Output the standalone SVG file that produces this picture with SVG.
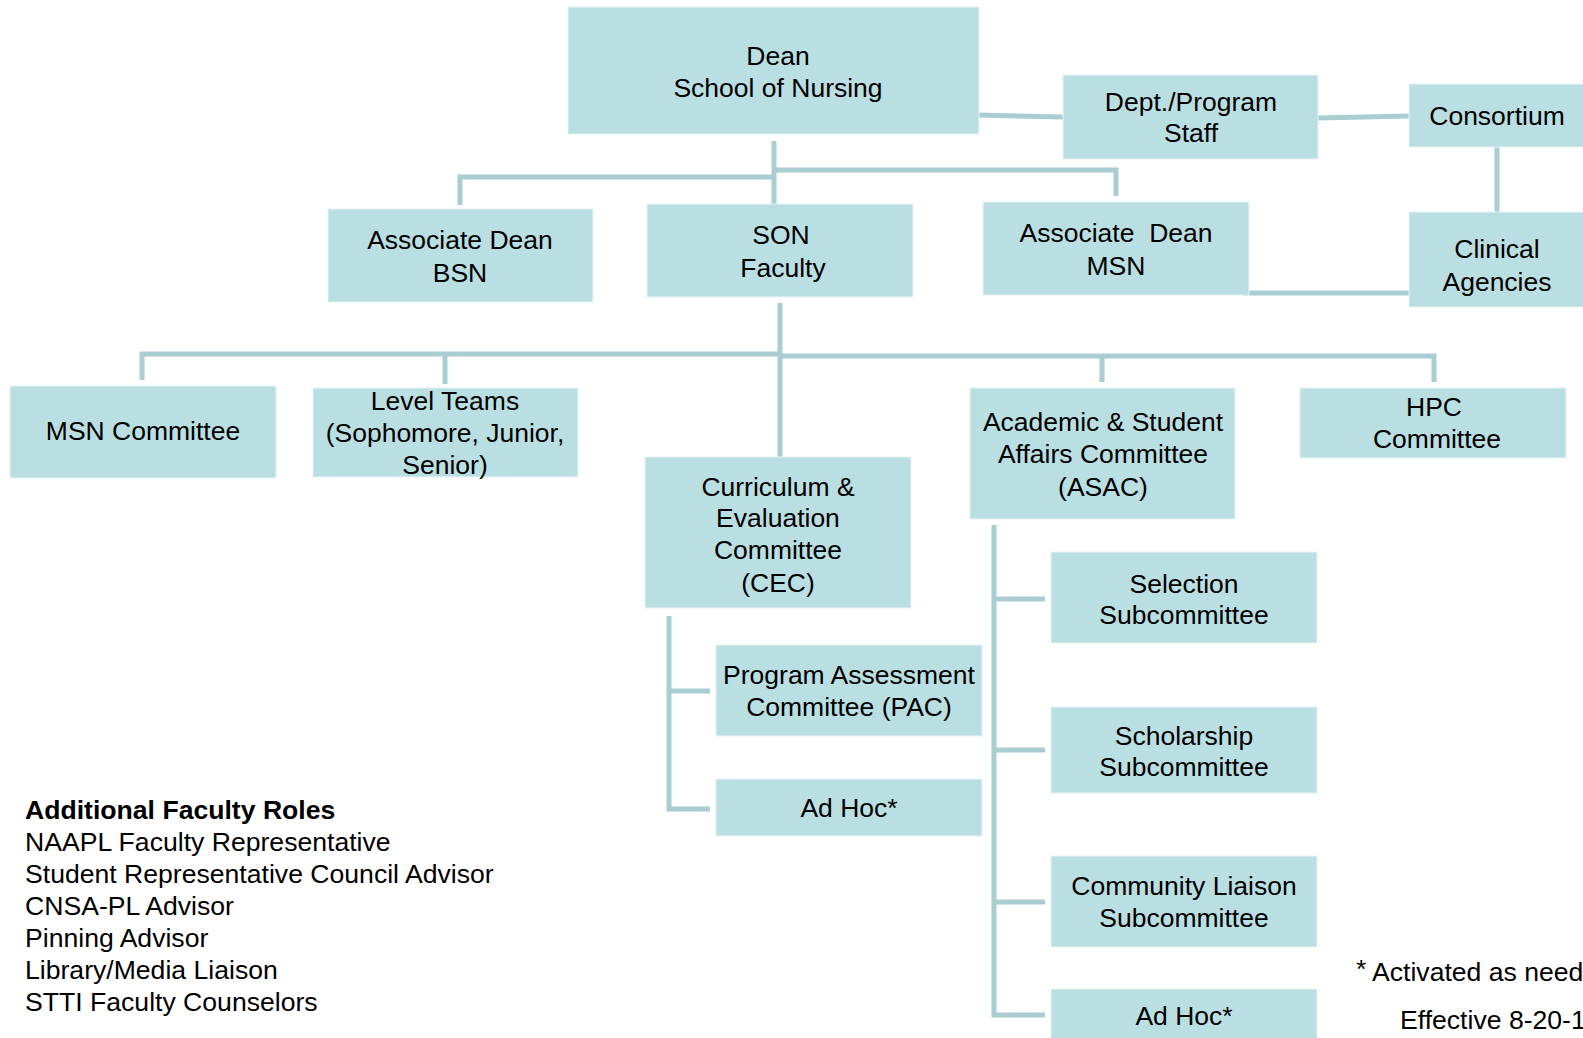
<svg xmlns="http://www.w3.org/2000/svg" width="1583" height="1038" viewBox="0 0 1583 1038">
<style>
.box{fill:#BADFE3;stroke:#E4F3F5;stroke-width:1}
.t{font-family:"Liberation Sans",Arial,sans-serif;font-size:26.5px;fill:#000;text-anchor:middle}
.l{font-family:"Liberation Sans",Arial,sans-serif;font-size:26.6px;fill:#000}
.c{fill:none;stroke:#A9CDD1;stroke-width:5}
</style>
<rect width="1583" height="1038" fill="#fff"/>
<g id="connectors">
<path class="c" d="M977 115 L1063 117"/>
<path class="c" d="M1318 118 L1409 116"/>
<path class="c" d="M1497 147 V212"/>
<path class="c" d="M1242 293 H1409"/>
<path class="c" d="M774 141 V204"/>
<path class="c" d="M774 177 H460 V205"/>
<path class="c" d="M774 170 H1116 V196"/>
<path class="c" d="M780 303 V457"/>
<path class="c" d="M780 354 H142 V380"/>
<path class="c" d="M445 354 V384"/>
<path class="c" d="M780 356 H1434 V382"/>
<path class="c" d="M1102 356 V382"/>
<path class="c" d="M669 616 V809 H710"/>
<path class="c" d="M669 691 H710"/>
<path class="c" d="M994 525 V1015 H1045"/>
<path class="c" d="M994 599 H1045"/>
<path class="c" d="M994 750 H1045"/>
<path class="c" d="M994 902 H1045"/>
</g>
<g id="dean"><rect class="box" x="568" y="7" width="411" height="127"/><text class="t" x="778" y="65">Dean</text><text class="t" x="778" y="97">School of Nursing</text></g>
<g id="dept"><rect class="box" x="1063" y="75" width="255" height="84"/><text class="t" x="1191" y="111">Dept./Program</text><text class="t" x="1191" y="142">Staff</text></g>
<g id="consortium"><rect class="box" x="1409" y="84" width="176" height="63"/><text class="t" x="1497" y="125">Consortium</text></g>
<g id="clinical"><rect class="box" x="1409" y="212" width="176" height="95"/><text class="t" x="1497" y="258">Clinical</text><text class="t" x="1497" y="291">Agencies</text></g>
<g id="ad-bsn"><rect class="box" x="328" y="209" width="265" height="93"/><text class="t" x="460" y="249">Associate Dean</text><text class="t" x="460" y="282">BSN</text></g>
<g id="son-faculty"><rect class="box" x="647" y="204" width="266" height="93"/><text class="t" x="781" y="244">SON</text><text class="t" x="783" y="277">Faculty</text></g>
<g id="ad-msn"><rect class="box" x="983" y="202" width="266" height="93"/><text class="t" x="1116" y="242" xml:space="preserve">Associate  Dean</text><text class="t" x="1116" y="275">MSN</text></g>
<g id="msn-committee"><rect class="box" x="10" y="386" width="266" height="92"/><text class="t" x="143" y="440">MSN Committee</text></g>
<g id="level-teams"><rect class="box" x="313" y="388" width="265" height="89"/><text class="t" x="445" y="410">Level Teams</text><text class="t" x="445" y="442">(Sophomore, Junior,</text><text class="t" x="445" y="474">Senior)</text></g>
<g id="cec"><rect class="box" x="645" y="457" width="266" height="151"/><text class="t" x="778" y="496">Curriculum &amp;</text><text class="t" x="778" y="527">Evaluation</text><text class="t" x="778" y="559">Committee</text><text class="t" x="778" y="592">(CEC)</text></g>
<g id="asac"><rect class="box" x="970" y="388" width="265" height="131"/><text class="t" x="1103" y="431">Academic &amp; Student</text><text class="t" x="1103" y="463">Affairs Committee</text><text class="t" x="1103" y="496">(ASAC)</text></g>
<g id="hpc"><rect class="box" x="1300" y="388" width="266" height="70"/><text class="t" x="1434" y="416">HPC</text><text class="t" x="1437" y="448">Committee</text></g>
<g id="pac"><rect class="box" x="716" y="645" width="266" height="91"/><text class="t" x="849" y="684">Program Assessment</text><text class="t" x="849" y="716">Committee (PAC)</text></g>
<g id="adhoc-cec"><rect class="box" x="716" y="779" width="266" height="57"/><text class="t" x="849" y="817">Ad Hoc*</text></g>
<g id="selection"><rect class="box" x="1051" y="552" width="266" height="91"/><text class="t" x="1184" y="593">Selection</text><text class="t" x="1184" y="624">Subcommittee</text></g>
<g id="scholarship"><rect class="box" x="1051" y="707" width="266" height="86"/><text class="t" x="1184" y="745">Scholarship</text><text class="t" x="1184" y="776">Subcommittee</text></g>
<g id="community"><rect class="box" x="1051" y="856" width="266" height="91"/><text class="t" x="1184" y="895">Community Liaison</text><text class="t" x="1184" y="927">Subcommittee</text></g>
<g id="adhoc-asac"><rect class="box" x="1051" y="989" width="266" height="52"/><text class="t" x="1184" y="1025">Ad Hoc*</text></g>
<g id="notes">
<text class="l" x="1356" y="978" font-size="12">*</text>
<text class="l" x="1372" y="981">Activated as need</text>
<text class="l" x="1400" y="1029" font-size="24.5">Effective 8-20-1</text>
</g>
<g id="legend">
<text class="l" x="25" y="819" font-weight="bold">Additional Faculty Roles</text>
<text class="l" x="25" y="851">NAAPL Faculty Representative</text>
<text class="l" x="25" y="883">Student Representative Council Advisor</text>
<text class="l" x="25" y="915">CNSA-PL Advisor</text>
<text class="l" x="25" y="947">Pinning Advisor</text>
<text class="l" x="25" y="979">Library/Media Liaison</text>
<text class="l" x="25" y="1011">STTI Faculty Counselors</text>
</g>
</svg>
